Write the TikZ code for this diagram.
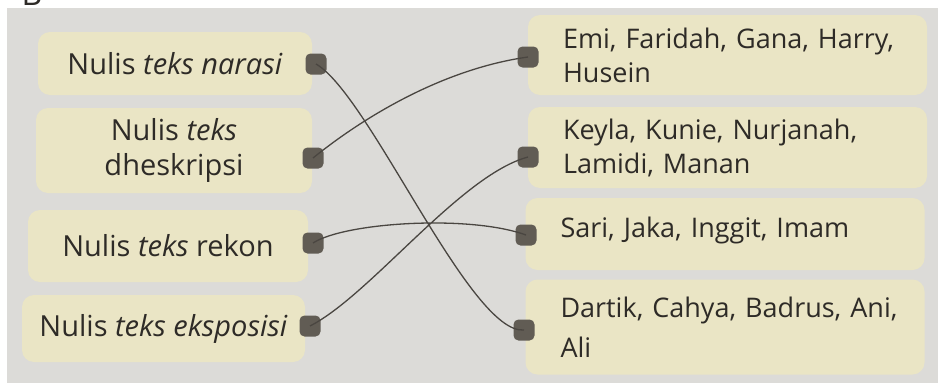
\documentclass[tikz,border=0pt]{standalone}
\usepackage{fontspec}
\setmainfont{Open Sans}

\definecolor{paper}{HTML}{DCDBD8}
\definecolor{boxfill}{HTML}{EAE5C5}
\definecolor{knob}{HTML}{615C54}
\definecolor{wire}{HTML}{4A4641}
\definecolor{ink}{HTML}{2E2B27}

\begin{document}
\begin{tikzpicture}[x=1pt, y=-1pt, text=ink,
    font=\fontsize{29}{35}\selectfont,
    box/.style={fill=boxfill, rounded corners=12pt},
    lbox/.style={box, align=center, inner sep=0pt},
    rbox/.style={box, text width=329pt, inner xsep=35pt, inner ysep=0pt,
      align=left, minimum width=399pt, font=\fontsize{27}{34}\selectfont},
    dot/.style={fill=knob, rounded corners=5pt, minimum size=21pt, inner sep=0pt},
    link/.style={draw=wire, line width=1.3pt}]
    \useasboundingbox (0,0) rectangle (938,383);
    \fill[white] (0,0) rectangle (938,383);
    \fill[paper] (7,8) rectangle (938,383);
    \node (part) [anchor=base, inner sep=0pt, font=\fontsize{32}{32}\selectfont] at (32,5) {B};
    % left column
    \node (lb1) [lbox, minimum width=274pt, minimum height=63pt] at (175,63.5) {Nulis \textit{teks narasi}};
    \node (lb2) [lbox, minimum width=276pt, minimum height=85pt] at (174,150.5) {Nulis \textit{teks}\\dheskripsi};
    \node (lb3) [lbox, minimum width=280pt, minimum height=72pt] at (168,246) {Nulis \textit{teks} rekon};
    \node (lb4) [lbox, minimum width=283pt, minimum height=67pt] at (163.5,328.5) {Nulis \textit{teks eksposisi}};
    % right column
    \node (rb1) [rbox, minimum height=80pt] at (727.5,55) {\mbox{Emi, Faridah, Gana, Harry,}\\Husein};
    \node (rb2) [rbox, minimum height=81pt] at (727.5,147.5) {\mbox{Keyla, Kunie, Nurjanah,}\\Lamidi, Manan};
    \node (rb3) [rbox, minimum height=72pt, text depth=14pt] at (725,234) {Sari, Jaka, Inggit, Imam};
    \node (rb4) [rbox, minimum height=95pt, font=\fontsize{27}{40}\selectfont] at (725,327) {\mbox{Dartik, Cahya, Badrus, Ani,}\\Ali};
    % knobs
    \node (ld1) [dot] at (316,64) {};
    \node (ld2) [dot] at (313,158) {};
    \node (ld3) [dot] at (313,243) {};
    \node (ld4) [dot] at (310,326) {};
    \node (rd1) [dot] at (528,57) {};
    \node (rd2) [dot] at (528,157) {};
    \node (rd3) [dot] at (526,235) {};
    \node (rd4) [dot] at (524,330) {};
    \path[link]
    (ld1.center) .. controls +(-30:62pt) and +(185:54pt) .. (rd4.center)
    (ld2.center) .. controls +(39:60pt) and +(188:89pt) .. (rd1.center)
    (ld3.center) .. controls +(33:38pt) and +(160:60pt) .. (rd3.center)
    (ld4.center) .. controls +(27:68pt) and +(195:70pt) .. (rd2.center)
    ;
\end{tikzpicture}
\end{document}
